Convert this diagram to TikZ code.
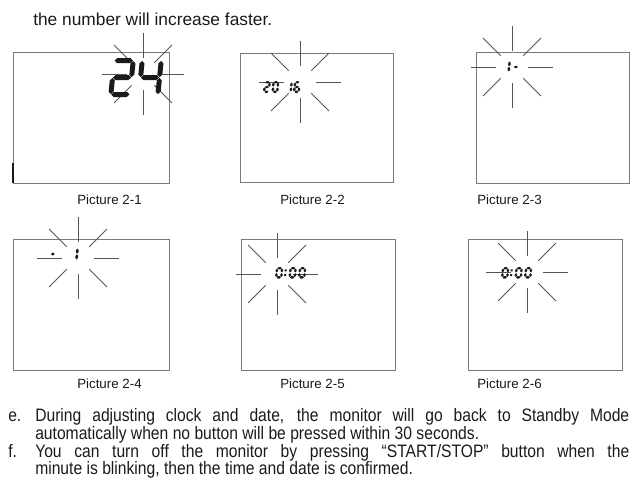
\documentclass[tikz,border=0pt]{standalone}
\usepackage{fontspec}
\setmainfont{Liberation Sans}
\newfontfamily\manualfont[FakeStretch=0.87]{Liberation Sans}
\usepackage{tikz}
\usetikzlibrary{positioning}
\definecolor{ink}{HTML}{1A1A1A}
\definecolor{framegray}{HTML}{7A7A7A}
\definecolor{raygray}{HTML}{555555}
\tikzset{
  lcdbox/.style={draw=framegray,line width=0.7pt},
  blinkray/.style={draw=raygray,line width=0.6pt},
  piccaption/.style={anchor=base west,inner sep=0pt,text=ink,
                     font=\fontsize{10}{12}\selectfont},
  headline/.style={anchor=base west,inner sep=0pt,text=ink,
                   font=\fontsize{13}{15}\selectfont},
  bodyline/.style={anchor=base west,inner sep=0pt,text=ink,
                   font=\manualfont\fontsize{13.5}{13.3}\selectfont}
}
% seven segment digits
\newcommand\lcdsize[3]{\def\lcdW{#1}\def\lcdH{#2}\def\lcdt{#3}}
\def\lcdg{0.4}
\newcommand\hseg[3]{\fill[ink] ({#1},{#3}) -- ({#1+\lcdt/2},{#3-\lcdt/2}) -- ({#2-\lcdt/2},{#3-\lcdt/2})
  -- ({#2},{#3}) -- ({#2-\lcdt/2},{#3+\lcdt/2}) -- ({#1+\lcdt/2},{#3+\lcdt/2}) -- cycle;}
\newcommand\vseg[3]{\fill[ink] ({#1},{#2}) -- ({#1+\lcdt/2},{#2+\lcdt/2}) -- ({#1+\lcdt/2},{#3-\lcdt/2})
  -- ({#1},{#3}) -- ({#1-\lcdt/2},{#3-\lcdt/2}) -- ({#1-\lcdt/2},{#2+\lcdt/2}) -- cycle;}
\def\lcdsega{\hseg{\lcdt/2+\lcdg}{\lcdW-\lcdt/2-\lcdg}{\lcdt/2}}
\def\lcdsegb{\vseg{\lcdW-\lcdt/2}{\lcdt/2+\lcdg}{\lcdH/2-\lcdg}}
\def\lcdsegc{\vseg{\lcdW-\lcdt/2}{\lcdH/2+\lcdg}{\lcdH-\lcdt/2-\lcdg}}
\def\lcdsegd{\hseg{\lcdt/2+\lcdg}{\lcdW-\lcdt/2-\lcdg}{\lcdH-\lcdt/2}}
\def\lcdsege{\vseg{\lcdt/2}{\lcdH/2+\lcdg}{\lcdH-\lcdt/2-\lcdg}}
\def\lcdsegf{\vseg{\lcdt/2}{\lcdt/2+\lcdg}{\lcdH/2-\lcdg}}
\def\lcdsegg{\hseg{\lcdt/2+\lcdg}{\lcdW-\lcdt/2-\lcdg}{\lcdH/2}}
\newcommand\lcddigit[2]{\begin{scope}[shift={(#1)},xslant=0.1]
  \foreach \s in {#2}{\csname lcdseg\s\endcsname}\end{scope}}
\newcommand\lcdcolon[1]{\begin{scope}[shift={(#1)},xslant=0.1]
  \fill[ink] (0,{\lcdH*0.3-1}) rectangle (2,{\lcdH*0.3+1});
  \fill[ink] (0,{\lcdH*0.7-1}) rectangle (2,{\lcdH*0.7+1});\end{scope}}
\newcommand\blink[1]{\foreach \a in {0,45,...,315}{\draw[blinkray] (#1) ++(\a:16) -- ++(\a:25);}}

\begin{document}
\begin{tikzpicture}[x=0.75pt,y=-0.75pt]
  \useasboundingbox (0,0) rectangle (635,480);
  \node[headline] (intro) at (33,25) {the number will increase faster.};

  % screens
  \draw[lcdbox] (13,52) rectangle (169,183);
  \draw[lcdbox] (240,53) rectangle (393,182);
  \draw[lcdbox] (476,52) rectangle (629,183);
  \draw[lcdbox] (13,239) rectangle (169,370);
  \draw[lcdbox] (241,239) rectangle (395,370);
  \draw[lcdbox] (468,239) rectangle (622,370);
  \draw[ink,line width=0.9pt] (13,163) -- (13,183);

  % blinking marks
  \blink{143,74} \blink{300,82} \blink{512,67}
  \blink{78,258} \blink{277,274} \blink{527,272}

  % 2-1: hour
  \lcdsize{24}{39}{5}
  \lcddigit{112,58}{a,b,g,e,d} \lcddigit{140,58}{f,g,b,c}
  % 2-2: year
  \lcdsize{7}{12}{2.4}
  \lcddigit{264,81}{a,b,g,e,d} \lcddigit{272.5,81}{a,b,c,d,e,f}
  \lcddigit{286,81}{b,c} \lcddigit{294,81}{a,f,g,e,c,d}
  % 2-3: month
  \lcdsize{7}{13}{2.4}
  \lcddigit{504,60}{b,c} \lcddigit{513,60.5}{g}
  % 2-4: day
  \lcdsize{7}{14}{2.6}
  \lcddigit{50,247}{g} \lcddigit{72,247}{b,c}
  % 2-5 and 2-6: clock
  \lcdsize{7.5}{11.5}{2.4}
  \lcddigit{276,267}{a,b,c,d,e,f} \lcdcolon{285,267}
  \lcddigit{289.5,267}{a,b,c,d,e,f} \lcddigit{299,267}{a,b,c,d,e,f}
  \lcddigit{502,267}{a,b,c,d,e,f} \lcdcolon{511,267}
  \lcddigit{515.5,267}{a,b,c,d,e,f} \lcddigit{525,267}{a,b,c,d,e,f}

  % captions
  \node[piccaption] (cap1) at (77,204) {Picture 2-1};
  \node[piccaption] (cap2) at (280,204) {Picture 2-2};
  \node[piccaption] (cap3) at (477,204) {Picture 2-3};
  \node[piccaption] (cap4) at (77,388) {Picture 2-4};
  \node[piccaption] (cap5) at (280,388) {Picture 2-5};
  \node[piccaption] (cap6) at (477,388) {Picture 2-6};

  % notes
  \node[bodyline] (itemE) at (8,421) {e.};
  \node[bodyline] (lineE1) at (35,421)
    {\makebox[445.5pt][s]{During adjusting clock and date, the monitor will go back to Standby Mode}};
  \node[bodyline] (lineE2) at (35,439) {automatically when no button will be pressed within 30 seconds.};
  \node[bodyline] (itemF) at (8,457) {f.};
  \node[bodyline] (lineF1) at (35,457)
    {\makebox[445.5pt][s]{You can turn off the monitor by pressing “START/STOP” button when the}};
  \node[bodyline] (lineF2) at (35,474) {minute is blinking, then the time and date is confirmed.};
\end{tikzpicture}
\end{document}
